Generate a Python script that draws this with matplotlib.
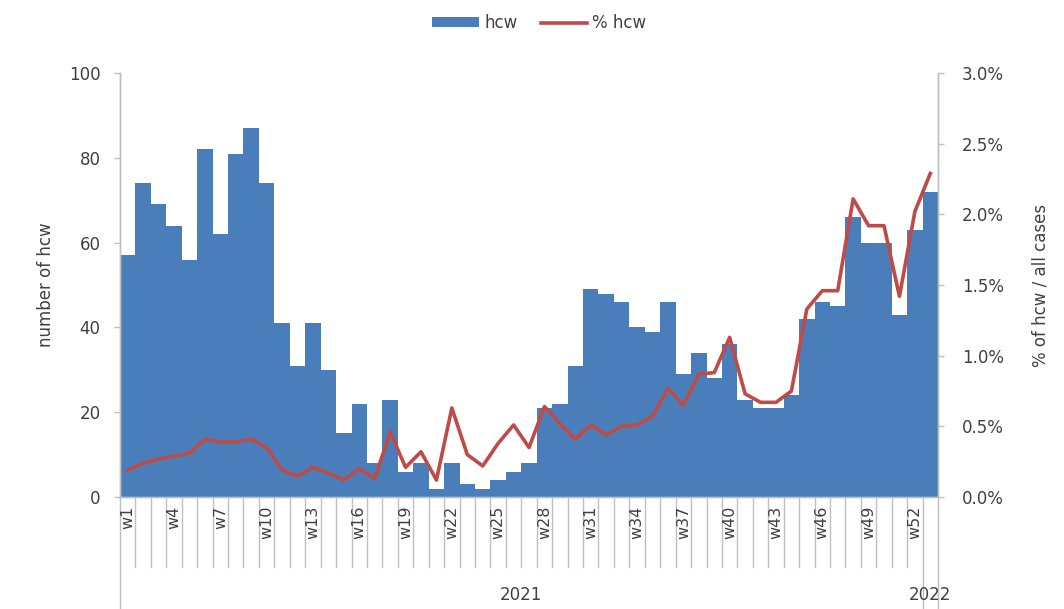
import matplotlib
matplotlib.use("Agg")
import matplotlib.pyplot as plt
import matplotlib.transforms as mtransforms
from matplotlib.ticker import FuncFormatter, MultipleLocator
from matplotlib.patches import Patch
from matplotlib.lines import Line2D
import numpy as np

plt.rcParams['font.family'] = ['DejaVu Sans']

# ---- data ----
weeks = [f"w{i}" for i in range(1, 53)] + ["w1"]
years = ["2021"] * 52 + ["2022"]
hcw = [57, 74, 69, 64, 56, 82, 62, 81, 87, 74,
       41, 31, 41, 30, 15, 22, 8, 23, 6, 8,
       2, 8, 3, 2, 4, 6, 8, 21, 22, 31,
       49, 48, 46, 40, 39, 46, 29, 34, 28, 36,
       23, 21, 21, 24, 42, 46, 45, 66, 60, 60,
       43, 63, 72]
pct_hcw = [0.19, 0.24, 0.27, 0.29, 0.31, 0.41, 0.39, 0.39, 0.41, 0.35,
           0.19, 0.15, 0.21, 0.17, 0.12, 0.20, 0.13, 0.46, 0.21, 0.32,
           0.12, 0.63, 0.30, 0.22, 0.38, 0.51, 0.35, 0.64, 0.52, 0.41,
           0.51, 0.44, 0.50, 0.51, 0.57, 0.77, 0.65, 0.87, 0.88, 1.13,
           0.73, 0.67, 0.67, 0.75, 1.33, 1.46, 1.46, 2.11, 1.92, 1.92,
           1.42, 2.02, 2.29]
year_labels = ["2021", "2022"]

bar_color = "#4A7EBB"
line_color = "#BE4B48"
grid_gray = "#BFBFBF"
text_color = "#404040"

fig = plt.figure(figsize=(10.64, 6.09), dpi=100)
ax = fig.add_axes([0.1128, 0.1839, 0.7688, 0.6961])
ax2 = ax.twinx()

x = np.arange(len(weeks))
ax.bar(x, hcw, width=1.0, color=bar_color, linewidth=0, zorder=2)
ax2.plot(x, pct_hcw, color=line_color, linewidth=2.6, zorder=3,
         solid_joinstyle='round')

ax.set_xlim(-0.5, len(weeks) - 0.5)
ax.set_ylim(0, 100)
ax2.set_ylim(0, 3.0)
ax.yaxis.set_major_locator(MultipleLocator(20))
ax2.yaxis.set_major_locator(MultipleLocator(0.5))
ax2.yaxis.set_major_formatter(FuncFormatter(lambda v, p: f"{v:.1f}%"))

for a in (ax, ax2):
    a.spines['top'].set_visible(False)
    for s in ('left', 'right', 'bottom'):
        a.spines[s].set_color(grid_gray)
        a.spines[s].set_linewidth(1.0)
ax.tick_params(axis='y', colors=grid_gray, labelcolor=text_color,
               labelsize=12, length=4, width=1, pad=10)
ax2.tick_params(axis='y', colors=grid_gray, labelcolor=text_color,
                labelsize=12, length=4, width=1, pad=13)

ax.set_ylabel("number of hcw", fontsize=12, color=text_color, labelpad=10)
ax2.set_ylabel("% of hcw / all cases", fontsize=12, color=text_color, labelpad=20)

# category labels (every third week)
ax.set_xticks([])
trans = mtransforms.blended_transform_factory(ax.transData, ax.transAxes)
for i, w in enumerate(weeks):
    if years[i] == "2021" and (i % 3 == 0):
        ax.text(i, -0.02, w, rotation=90, ha='center', va='top',
                fontsize=11.5, color=text_color, transform=trans)

# category separators
short_len = -0.165
long_len = -0.27
bounds = np.arange(len(weeks) + 1) - 0.5
year_bounds = [-0.5]
for i in range(1, len(years)):
    if years[i] != years[i - 1]:
        year_bounds.append(i - 0.5)
year_bounds.append(len(years) - 0.5)
for b in bounds:
    lo = long_len if b in year_bounds else short_len
    ax.plot([b, b], [0, lo], color=grid_gray, linewidth=1.0,
            transform=trans, clip_on=False, zorder=1)

# year group labels
for k, yl in enumerate(year_labels):
    idx = [i for i, yy in enumerate(years) if yy == yl]
    cx = (idx[0] + idx[-1]) / 2
    ax.text(cx, -0.23, yl, ha='center', va='center', fontsize=12,
            color=text_color, transform=trans)

# legend
handles = [Patch(facecolor=bar_color, edgecolor='none'),
           Line2D([0], [0], color=line_color, linewidth=2.6)]
fig.legend(handles, ["hcw", "% hcw"], loc='center', bbox_to_anchor=(0.507, 0.962),
           ncol=2, frameon=False, fontsize=12, handlelength=2.8,
           handleheight=0.5, columnspacing=1.4, handletextpad=0.3,
           labelcolor=text_color)

fig.savefig("out.png", dpi=100)
